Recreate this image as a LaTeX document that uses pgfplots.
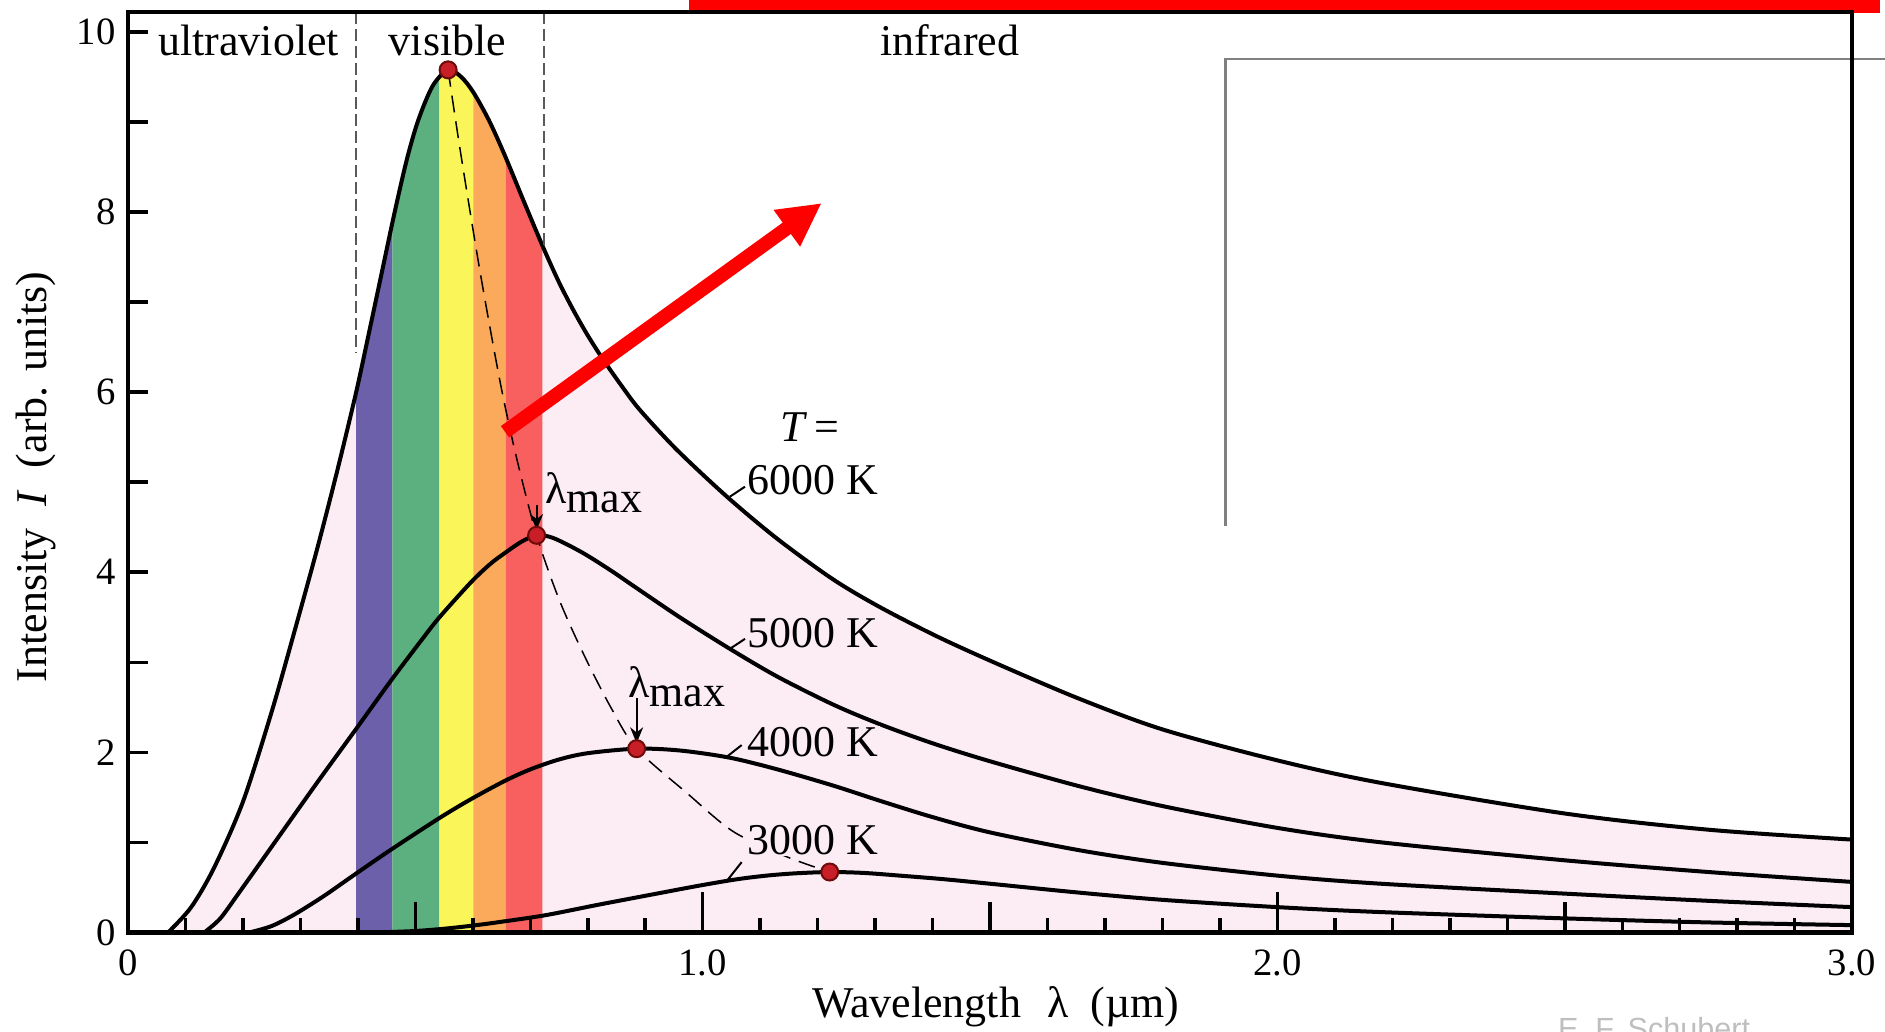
\documentclass[border=0pt]{standalone}
\usepackage{fontspec}
\setmainfont{Liberation Serif}
\newfontfamily\sansf{Liberation Sans}
\usepackage{pgfplots}
\pgfplotsset{compat=1.18}
\usepgfplotslibrary{fillbetween}
\usetikzlibrary{arrows.meta}

\definecolor{pinkbg}{RGB}{252,236,244}
\definecolor{bandviolet}{RGB}{108,96,170}
\definecolor{bandgreen}{RGB}{92,176,128}
\definecolor{bandyellow}{RGB}{250,245,88}
\definecolor{bandorange}{RGB}{250,170,90}
\definecolor{bandred}{RGB}{248,95,95}
\definecolor{dotred}{RGB}{200,30,40}
\definecolor{dotedge}{RGB}{110,10,10}
\definecolor{boxgray}{RGB}{128,128,128}
\definecolor{signgray}{RGB}{190,190,190}

\newcommand{\lbl}{\fontsize{12.5}{14}\selectfont}
\newcommand{\tck}{\fontsize{11}{13}\selectfont}

\begin{document}
\begin{tikzpicture}
\begin{axis}[
  set layers, axis on top,
  scale only axis, width=172.4mm, height=92mm,
  xmin=0, xmax=3, ymin=0, ymax=10.22,
  clip=false,
  axis line style={line width=0.45mm},
  tick align=inside,
  xtick pos=left, ytick pos=left,
  major tick length=2mm, minor tick length=1.4mm,
  tick style={line width=0.35mm, black},
  xtick={0,1,2,3}, xticklabels={0,1.0,2.0,3.0},
  minor xtick={0.1,0.2,0.3,0.4,0.6,0.7,0.8,0.9,1.1,1.2,1.3,1.4,1.6,1.7,1.8,1.9,2.1,2.2,2.3,2.4,2.6,2.7,2.8,2.9},
  ytick={0,1,...,10}, yticklabels={0,,2,,4,,6,,8,,10},
  tick label style={font=\tck},
  xticklabel style={yshift=-0.5mm},
]
\path[name path=axisline] (axis cs:0,0) -- (axis cs:3,0);

% 6000 K
\addplot[smooth, black, line width=0.4mm, name path=c6] coordinates {
(0.07,0) (0.11,0.28) (0.15,0.72) (0.2,1.45) (0.25,2.45) (0.29,3.35) (0.33,4.28)
(0.365,5.15) (0.397,6.0) (0.42,6.68) (0.44,7.28) (0.463,7.97) (0.485,8.58) (0.505,9.02)
(0.53,9.40) (0.557,9.58) (0.58,9.5) (0.601,9.33) (0.628,9.02) (0.655,8.64) (0.69,8.1)
(0.723,7.6) (0.75,7.22) (0.775,6.91) (0.8,6.63) (0.827,6.36) (0.86,6.06) (0.891,5.8)
(0.955,5.36) (1.042,4.84) (1.13,4.37) (1.227,3.92) (1.309,3.61) (1.41,3.28) (1.517,2.97)
(1.657,2.59) (1.802,2.25) (2.0,1.91) (2.18,1.66) (2.5,1.32) (2.75,1.14) (3.0,1.03)};

\addplot[pinkbg] fill between[of=c6 and axisline];
\addplot[bandviolet] fill between[of=c6 and axisline, soft clip={domain=0.397:0.460}];
\addplot[bandgreen] fill between[of=c6 and axisline, soft clip={domain=0.460:0.542}];
\addplot[bandyellow] fill between[of=c6 and axisline, soft clip={domain=0.542:0.601}];
\addplot[bandorange] fill between[of=c6 and axisline, soft clip={domain=0.601:0.657}];
\addplot[bandred] fill between[of=c6 and axisline, soft clip={domain=0.657:0.721}];

% 5000 K
\addplot[smooth, black, line width=0.4mm] coordinates {
(0.133,0) (0.16,0.15) (0.191,0.42) (0.261,1.05) (0.331,1.68) (0.397,2.26) (0.458,2.8)
(0.51,3.24) (0.542,3.5) (0.597,3.89) (0.63,4.09) (0.655,4.21) (0.685,4.34) (0.711,4.41)
(0.74,4.38) (0.79,4.22) (0.84,4.02) (0.879,3.85) (0.96,3.5) (1.047,3.15) (1.13,2.84)
(1.227,2.53) (1.309,2.31) (1.4,2.1) (1.5,1.90) (1.657,1.62) (1.802,1.40) (2.0,1.16)
(2.18,1.0) (2.5,0.80) (2.75,0.67) (3.0,0.56)};

% 4000 K
\addplot[smooth, black, line width=0.4mm] coordinates {
(0.212,0) (0.25,0.07) (0.29,0.2) (0.34,0.4) (0.394,0.64) (0.458,0.92) (0.542,1.27)
(0.597,1.48) (0.655,1.68) (0.7,1.81) (0.75,1.92) (0.8,1.99) (0.885,2.04) (0.96,2.02)
(1.047,1.94) (1.13,1.81) (1.227,1.63) (1.309,1.46) (1.4,1.28) (1.5,1.11) (1.657,0.91)
(1.802,0.77) (2.0,0.63) (2.18,0.54) (2.5,0.43) (2.75,0.35) (3.0,0.28)};

% 3000 K
\addplot[smooth, black, line width=0.4mm] coordinates {
(0.44,0) (0.5,0.015) (0.55,0.04) (0.6,0.075) (0.647,0.115) (0.726,0.19) (0.821,0.31)
(0.92,0.43) (0.995,0.52) (1.06,0.59) (1.111,0.63) (1.16,0.655) (1.221,0.67) (1.28,0.66)
(1.343,0.63) (1.42,0.59) (1.5,0.54) (1.657,0.44) (1.802,0.36) (2.0,0.28) (2.18,0.225)
(2.5,0.155) (2.75,0.11) (3.0,0.08)};

% Wien displacement (dashed)
\addplot[smooth, black, line width=0.15mm, dash pattern=on 1.7mm off 0.9mm] coordinates {
(0.557,9.58) (0.578,8.69) (0.612,7.36) (0.647,6.13) (0.675,5.3) (0.711,4.41) (0.75,3.7)
(0.792,3.10) (0.84,2.5) (0.885,2.04) (0.972,1.55) (1.053,1.12) (1.146,0.84) (1.221,0.67)};

% region boundaries
\draw[black!65, line width=0.2mm, dash pattern=on 1.2mm off 0.5mm] (axis cs:0.397,10.22) -- (axis cs:0.397,6.43);
\draw[black!65, line width=0.2mm, dash pattern=on 1.2mm off 0.5mm] (axis cs:0.723,10.22) -- (axis cs:0.723,7.6);

% longer x ticks
\pgfplotsinvokeforeach{1,2}{\draw[line width=0.35mm] (axis cs:#1,0) -- ++(0,4mm);}
\pgfplotsinvokeforeach{0.5,1.5,2.5}{\draw[line width=0.35mm] (axis cs:#1,0) -- ++(0,3mm);}

% labels
\node[font=\lbl] at (axis cs:0.21,9.91) {ultraviolet};
\node[font=\lbl] at (axis cs:0.556,9.91) {visible};
\node[font=\lbl] at (axis cs:1.43,9.91) {infrared};
\node[font=\lbl] at (axis cs:1.187,5.61) {\textit{T}\,=};
\node[font=\lbl, anchor=west, inner sep=0.5pt] at (axis cs:1.074,5.02) {6000 K};
\node[font=\lbl, anchor=west, inner sep=0.5pt, fill=pinkbg] at (axis cs:1.074,3.32) {5000 K};
\node[font=\lbl, anchor=west, inner sep=0.5pt, fill=pinkbg] at (axis cs:1.074,2.11) {4000 K};
\node[font=\lbl, anchor=west, inner sep=0.5pt, fill=pinkbg] at (axis cs:1.074,1.03) {3000 K};
\draw[line width=0.2mm] (axis cs:1.0475,4.84) -- (axis cs:1.0736,4.95);
\draw[line width=0.2mm] (axis cs:1.0475,3.15) -- (axis cs:1.0736,3.26);
\draw[line width=0.2mm] (axis cs:1.0418,1.95) -- (axis cs:1.0678,2.08);
\draw[line width=0.2mm] (axis cs:1.0418,0.57) -- (axis cs:1.0678,0.78);

\node[font=\lbl, anchor=west, inner sep=0.5pt] at (axis cs:0.722,4.88) {λ\raisebox{-0.45ex}{max}};
\node[font=\lbl, anchor=west, inner sep=0.5pt] at (axis cs:0.866,2.73) {λ\raisebox{-0.45ex}{max}};
\draw[-{Stealth[length=1.6mm,width=1.3mm]}, line width=0.2mm] (axis cs:0.711,4.75) -- (axis cs:0.711,4.47);
\draw[-{Stealth[length=1.6mm,width=1.3mm]}, line width=0.2mm] (axis cs:0.885,2.60) -- (axis cs:0.885,2.10);

% peak dots
\addplot[only marks, mark=*, mark size=0.85mm, mark options={fill=dotred, draw=dotedge, line width=0.2mm}]
  coordinates {(0.557,9.58) (0.711,4.41) (0.885,2.04) (1.221,0.67)};

% axis titles
\node[font=\lbl] at (axis cs:1.51,-0.83) {Wavelength\hspace{0.6em}λ\hspace{0.5em}(µm)};
\node[font=\lbl, rotate=90] at (axis cs:-0.160,5.06) {Intensity\hspace{0.5em}\textit{I}\hspace{0.5em}(arb. units)};

% helper coordinates
\coordinate (BBsw) at (axis cs:-0.2227,-1.1);
\coordinate (BBne) at (axis cs:3.0572,10.356);
\coordinate (rbA) at (axis cs:0.976,10.21);
\coordinate (rbB) at (axis cs:3.049,10.6);
\coordinate (wbA) at (axis cs:1.91,9.70);
\coordinate (wbB) at (axis cs:3.15,4.28);
\coordinate (wbL) at (axis cs:1.91,4.51);
\coordinate (arT) at (axis cs:0.656,5.56);
\coordinate (arH) at (axis cs:1.207,8.10);
\coordinate (sig) at (axis cs:2.487,-1.19);
\end{axis}

\fill[white] (wbA) rectangle (wbB);
\draw[boxgray, line width=0.25mm] (wbL) -- (wbA) -- (wbA -| wbB);
\fill[red] (rbA) rectangle (rbB);
\draw[red, line width=1.4mm, -{Triangle[length=4.3mm,width=4.2mm]}] (arT) -- (arH);
\node[font=\sansf\fontsize{8.7}{10}\selectfont, text=signgray, anchor=base west, inner sep=0pt] at (sig) {E. F. Schubert};

\pgfresetboundingbox
\useasboundingbox (BBsw) rectangle (BBne);
\end{tikzpicture}
\end{document}
